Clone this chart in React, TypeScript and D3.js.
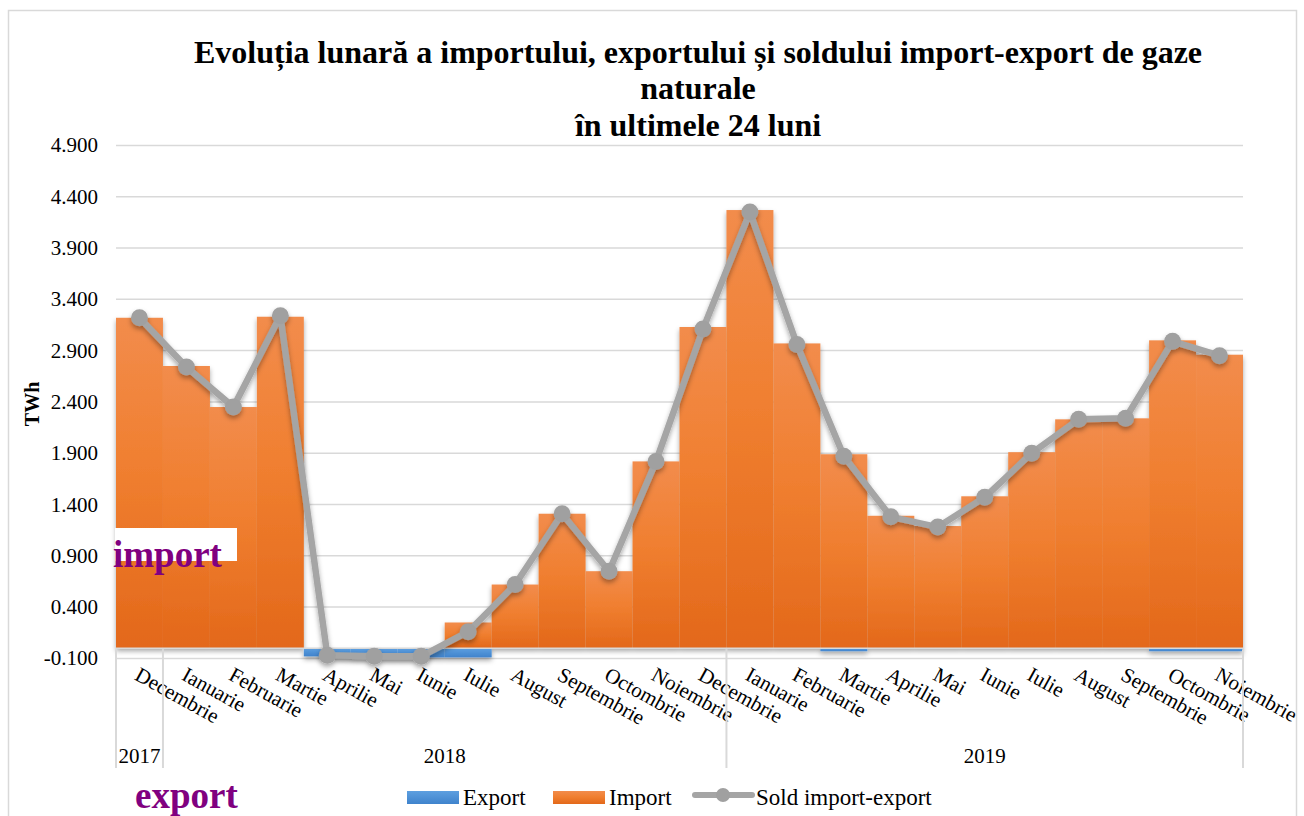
import React from "react";
import * as d3 from "d3";

const months = ["Decembrie","Ianuarie","Februarie","Martie","Aprilie","Mai","Iunie","Iulie","August","Septembrie","Octombrie","Noiembrie","Decembrie","Ianuarie","Februarie","Martie","Aprilie","Mai","Iunie","Iulie","August","Septembrie","Octombrie","Noiembrie"];
const years = ["2017", "2018", "2019"];
const yearMonthCounts = [1, 12, 11];
const importValues = [3.22,2.75,2.35,3.23,0.0,0.0,0.0,0.25,0.62,1.31,0.75,1.82,3.13,4.27,2.97,1.89,1.29,1.19,1.48,1.91,2.23,2.24,3.0,2.86];
const exportValues = [0,0,0,0,-0.08,-0.09,-0.09,-0.09,0,0,0,0,0,0,0,-0.03,0,0,0,0,0,0,-0.03,-0.03];
const soldValues = [3.22,2.74,2.35,3.24,-0.07,-0.08,-0.08,0.16,0.62,1.31,0.75,1.82,3.11,4.25,2.96,1.87,1.28,1.18,1.47,1.9,2.23,2.24,2.99,2.85];
const yTicks = [-0.1,0.4,0.9,1.4,1.9,2.4,2.9,3.4,3.9,4.4,4.9];
const titleLines = ["Evoluția lunară a importului, exportului și soldului import-export de gaze", "naturale", "în ultimele 24 luni"];
const legendItems = ["Export", "Import", "Sold import-export"];

const FONT = "'Liberation Serif', 'Times New Roman', serif";

export default function App() {
  const W = 1304, H = 816;
  const left = 116, right = 1243, top = 145.4, bottom = 658.4;
  const idx = months.map((_, i) => String(i));
  const x = d3.scaleBand<string>().domain(idx).range([left, right]).padding(0);
  const y = d3.scaleLinear().domain([-0.1, 4.9]).range([bottom, top]);
  const bw = x.bandwidth();
  const y0 = y(0);

  const line = d3.line<number>()
    .x((_, i) => (x(String(i)) as number) + bw / 2)
    .y((d) => y(d));

  const boundaries: number[] = [0];
  yearMonthCounts.reduce((acc, c) => { boundaries.push(acc + c); return acc + c; }, 0);
  const bx = (k: number) => (k >= months.length ? right : (x(String(k)) as number));

  return (
    <svg width={W} height={H} style={{ display: "block", position: "absolute", left: 0, top: 0 }} fontFamily={FONT}>
      <defs>
        <linearGradient id="gOrange" x1="0" y1="0" x2="0" y2="1">
          <stop offset="0" stopColor="#f28c4c" />
          <stop offset="0.45" stopColor="#f07f30" />
          <stop offset="1" stopColor="#e3681a" />
        </linearGradient>
        <linearGradient id="gBlue" x1="0" y1="0" x2="0" y2="1">
          <stop offset="0" stopColor="#5d9fe0" />
          <stop offset="1" stopColor="#3f83cc" />
        </linearGradient>
        <filter id="shadow" x="-10%" y="-10%" width="120%" height="130%">
          <feDropShadow dx="0" dy="3" stdDeviation="2.5" floodColor="#000" floodOpacity="0.35" />
        </filter>
      </defs>
      <rect x={0} y={0} width={W} height={H} fill="#fff" />
      <rect x={8.5} y={10.5} width={1288} height={830} fill="none" stroke="#d9d9d9" strokeWidth={1.5} />

      {titleLines.map((t, i) => (
        <text key={i} x={698} y={[63, 99, 136][i]} textAnchor="middle" fontWeight="bold" fontSize={32} fill="#000">{t}</text>
      ))}

      {yTicks.map((t) => (
        <g key={t}>
          <line x1={left} x2={right} y1={y(t)} y2={y(t)} stroke="#d9d9d9" strokeWidth={1.5} />
          <text x={98} y={y(t) + 7} textAnchor="end" fontSize={21} fill="#000">{t.toFixed(3)}</text>
        </g>
      ))}

      <text transform={`translate(39,${(top + bottom) / 2 + 2}) rotate(-90)`} textAnchor="middle" fontWeight="bold" fontSize={20}>TWh</text>

      <g filter="url(#shadow)">
        {importValues.map((v, i) => (
          <rect key={"i" + i} x={x(String(i))} width={bw} y={y(Math.max(v, 0))} height={Math.abs(y(v) - y0)} fill="url(#gOrange)" />
        ))}
        {exportValues.map((v, i) => v !== 0 ? (
          <rect key={"e" + i} x={x(String(i))} width={bw} y={y0} height={Math.abs(y(v) - y0)} fill="url(#gBlue)" />
        ) : null)}
      </g>
      <line x1={left} x2={right} y1={y0} y2={y0} stroke="#d9d9d9" strokeWidth={1.5} />

      <g filter="url(#shadow)">
        <path d={line(soldValues) || ""} fill="none" stroke="#a5a5a5" strokeWidth={6.5} strokeLinejoin="round" />
        {soldValues.map((v, i) => (
          <circle key={i} cx={(x(String(i)) as number) + bw / 2} cy={y(v)} r={8.5} fill="#a0a0a0" />
        ))}
      </g>

      {months.map((m, i) => {
        const cx = (x(String(i)) as number) + bw / 2 - 6;
        return (
          <text key={i} transform={`translate(${cx},679) rotate(29)`} fontSize={21} fill="#000">{m}</text>
        );
      })}

      {boundaries.map((k, i) => (
        <line key={i} x1={bx(k)} x2={bx(k)} y1={y0 + 1} y2={768} stroke="#d9d9d9" strokeWidth={2} />
      ))}
      {years.map((yr, i) => {
        const a = bx(boundaries[i]), b = bx(boundaries[i + 1]);
        return <text key={yr} x={(a + b) / 2} y={763} textAnchor="middle" fontSize={21}>{yr}</text>;
      })}

      <rect x={115} y={528} width={122} height={33} fill="#fff" />
      <text x={113} y={567} fontSize={37} fontWeight="bold" fill="#800080">import</text>
      <text x={135} y={808} fontSize={37} fontWeight="bold" fill="#800080">export</text>

      <rect x={407} y={791} width={52} height={13} fill="url(#gBlue)" />
      <text x={463} y={805} fontSize={23}>{legendItems[0]}</text>
      <rect x={553} y={791} width={52} height={13} fill="url(#gOrange)" />
      <text x={609} y={805} fontSize={23}>{legendItems[1]}</text>
      <line x1={695} x2={752} y1={795} y2={795} stroke="#a5a5a5" strokeWidth={6} strokeLinecap="round" />
      <circle cx={723} cy={795} r={7} fill="#a0a0a0" />
      <text x={756} y={805} fontSize={23}>{legendItems[2]}</text>
    </svg>
  );
}
